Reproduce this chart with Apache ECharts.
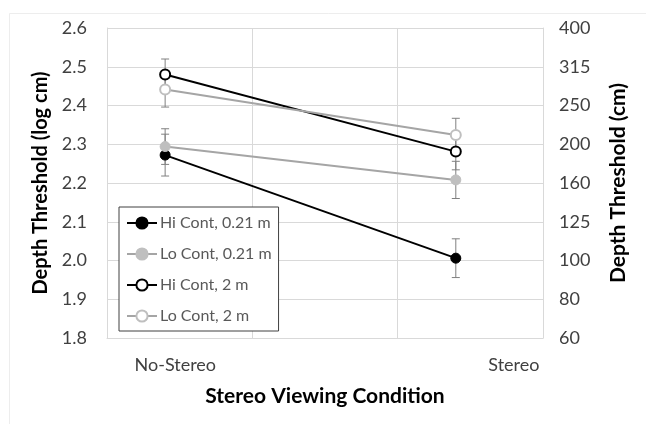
<!DOCTYPE html>
<html>
<head>
<meta charset="utf-8">
<script src="https://cdn.jsdelivr.net/npm/echarts@6/dist/echarts.min.js"></script>
<style>
html,body{margin:0;padding:0;background:#fff;}
#chart{width:646px;height:424px;}
</style>
</head>
<body>
<div id="chart"></div>
<script>
// ---- data ----
const categories = ['No-Stereo', 'Stereo'];
const categoryX = [0.4, 2.4];           // x positions of the two conditions on the 0..3 axis
const seriesNames = ['Hi Cont, 0.21 m', 'Lo Cont, 0.21 m', 'Hi Cont, 2 m', 'Lo Cont, 2 m'];
const hiNear = [2.272, 2.006];
const loNear = [2.294, 2.208];
const hiFar  = [2.480, 2.281];
const loFar  = [2.441, 2.324];
const hiNearErr = [0.054, 0.050];
const loNearErr = [0.046, 0.048];
const hiFarErr  = [0.040, 0.047];
const loFarErr  = [0.045, 0.043];
const leftTicks  = ['1.8', '1.9', '2.0', '2.1', '2.2', '2.3', '2.4', '2.5', '2.6'];
const rightTicks = ['60', '80', '100', '125', '160', '200', '250', '315', '400'];

const FONT = 'Lato';
const BLACK = '#000000';
const GREY_LINE = '#a5a5a5';
const GREY_MARK = '#bfbfbf';

const values = [hiNear, loNear, hiFar, loFar];
const errs = [hiNearErr, loNearErr, hiFarErr, loFarErr];
const styles = [
  {line: BLACK, fill: BLACK, border: BLACK},
  {line: GREY_LINE, fill: GREY_MARK, border: GREY_MARK},
  {line: BLACK, fill: '#ffffff', border: BLACK},
  {line: GREY_LINE, fill: '#ffffff', border: GREY_MARK}
];

const errData = [];
values.forEach((v, s) => v.forEach((y, i) => {
  errData.push([categoryX[i], y - errs[s][i], y + errs[s][i]]);
}));

const series = [{
  type: 'custom',
  name: 'err',
  z: 1,
  silent: true,
  encode: {x: 0, y: [1, 2]},
  data: errData,
  renderItem: function (params, api) {
    const x = api.value(0);
    const lo = api.coord([x, api.value(1)]);
    const hi = api.coord([x, api.value(2)]);
    const w = 4;
    const st = {stroke: '#808080', lineWidth: 1};
    return {
      type: 'group',
      children: [
        {type: 'line', shape: {x1: lo[0], y1: lo[1], x2: hi[0], y2: hi[1]}, style: st},
        {type: 'line', shape: {x1: lo[0] - w, y1: lo[1], x2: lo[0] + w, y2: lo[1]}, style: st},
        {type: 'line', shape: {x1: hi[0] - w, y1: hi[1], x2: hi[0] + w, y2: hi[1]}, style: st}
      ]
    };
  }
}];

seriesNames.forEach((name, s) => {
  series.push({
    type: 'line',
    name: name,
    z: 3,
    data: values[s].map((y, i) => [categoryX[i], y]),
    symbol: 'circle',
    symbolSize: 10,
    lineStyle: {color: styles[s].line, width: 2},
    itemStyle: {color: styles[s].fill, borderColor: styles[s].border, borderWidth: s >= 2 ? 2 : 1},
    emphasis: {disabled: true},
    animation: false
  });
});

const chart = echarts.init(document.getElementById('chart'));
chart.setOption({
  animation: false,
  backgroundColor: '#ffffff',
  graphic: [{
    type: 'rect', left: 7, top: 11, shape: {width: 700, height: 500},
    style: {fill: 'none', stroke: '#ededed', lineWidth: 1}, silent: true, z: -10
  }],
  grid: {left: 107, right: 103, top: 28, bottom: 86},
  legend: {
    data: seriesNames,
    orient: 'vertical',
    left: 119, top: 207,
    padding: [8, 7, 7, 7],
    itemGap: 15,
    itemWidth: 30, itemHeight: 14,
    backgroundColor: '#ffffff',
    borderColor: '#404040', borderWidth: 1,
    textStyle: {fontFamily: FONT, fontSize: 16, color: '#595959', padding: [0, 0, 0, -2]}
  },
  xAxis: {
    type: 'value', min: 0, max: 3, interval: 1,
    name: 'Stereo Viewing Condition',
    nameLocation: 'middle', nameGap: 48,
    nameTextStyle: {fontFamily: FONT, fontSize: 21, fontWeight: 'bold', color: '#000'},
    axisLine: {show: true, lineStyle: {color: '#d9d9d9'}},
    axisTick: {show: false},
    splitLine: {show: true, lineStyle: {color: '#d9d9d9'}},
    axisLabel: {
      customValues: [0.47, 2.8],
      margin: 18,
      fontFamily: FONT, fontSize: 18, color: '#404040',
      formatter: v => (v < 1.5 ? categories[0] : categories[1])
    }
  },
  yAxis: [{
    type: 'value', min: 1.8, max: 2.6, interval: 0.1,
    name: 'Depth Threshold (log cm)',
    nameLocation: 'middle', nameGap: 56,
    nameTextStyle: {fontFamily: FONT, fontSize: 20, fontWeight: 'bold', color: '#000'},
    axisLine: {show: true, lineStyle: {color: '#d9d9d9'}},
    axisTick: {show: false},
    splitLine: {show: true, lineStyle: {color: '#d9d9d9'}},
    axisLabel: {
      margin: 20, fontFamily: FONT, fontSize: 18, color: '#404040',
      formatter: v => leftTicks[Math.round((v - 1.8) / 0.1)]
    }
  }, {
    type: 'value', min: 1.8, max: 2.6, interval: 0.1, position: 'right',
    name: 'Depth Threshold (cm)',
    nameLocation: 'middle', nameGap: 65,
    nameRotate: 90,
    nameTextStyle: {fontFamily: FONT, fontSize: 21, fontWeight: 'bold', color: '#000'},
    axisLine: {show: true, lineStyle: {color: '#d9d9d9'}},
    axisTick: {show: false},
    splitLine: {show: false},
    axisLabel: {
      margin: 16, fontFamily: FONT, fontSize: 18, color: '#404040',
      formatter: v => rightTicks[Math.round((v - 1.8) / 0.1)]
    }
  }],
  series: series
});
</script>
</body>
</html>
